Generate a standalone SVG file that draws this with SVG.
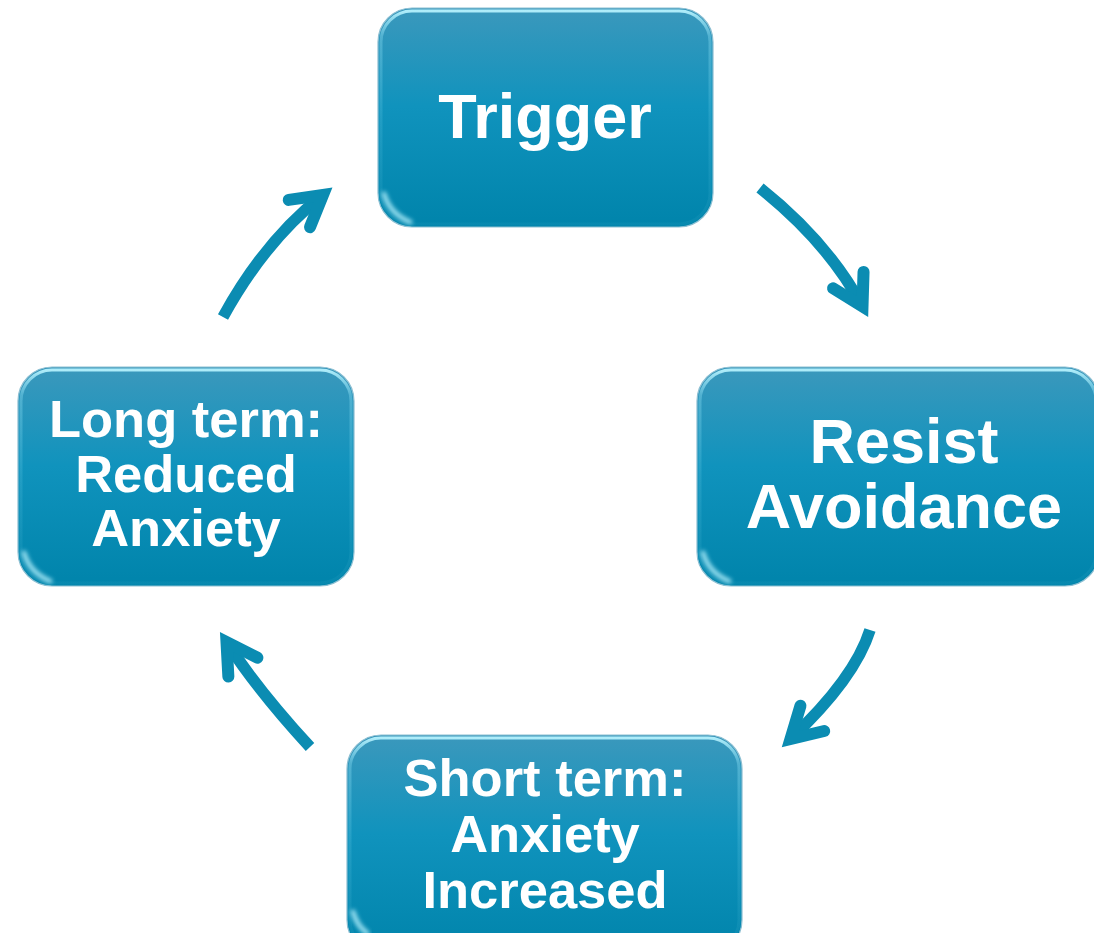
<svg xmlns="http://www.w3.org/2000/svg" width="1094" height="933" viewBox="0 0 1094 933">
  <defs>
    <linearGradient id="boxFill" x1="0" y1="0" x2="0" y2="1">
      <stop offset="0" stop-color="#3b98bc"/>
      <stop offset="0.45" stop-color="#1093bd"/>
      <stop offset="1" stop-color="#0084ab"/>
    </linearGradient>
    <linearGradient id="rimGrad" x1="0" y1="0" x2="0" y2="1">
      <stop offset="0" stop-color="#b5f1fd" stop-opacity="0.95"/>
      <stop offset="0.12" stop-color="#8fe2f6" stop-opacity="0.35"/>
      <stop offset="0.5" stop-color="#8fe2f6" stop-opacity="0.15"/>
      <stop offset="1" stop-color="#8fe2f6" stop-opacity="0.05"/>
    </linearGradient>
    <filter id="soft" x="-30%" y="-30%" width="160%" height="160%">
      <feGaussianBlur stdDeviation="2"/>
    </filter>
    <marker id="head" markerUnits="userSpaceOnUse" orient="auto" overflow="visible" markerWidth="1" markerHeight="1" refX="0" refY="0">
      <path d="M-30,-17.3 L0,0 L-30,17.3" fill="none" stroke="#0b8cb2" stroke-width="12" stroke-linecap="round" stroke-linejoin="miter"/>
    </marker>
  </defs>
  <style>
    .box { fill: url(#boxFill); stroke: #8cbfd2; stroke-width: 1.2; }
    .rim { fill: none; stroke: url(#rimGrad); stroke-width: 3; }
    .gloss { fill: none; stroke: #b0eefb; stroke-width: 5; stroke-linecap: round; opacity: 0.85; filter: url(#soft); }
    .lbl { font-family: "Liberation Sans", Arial, sans-serif; font-weight: bold; fill: #ffffff; text-anchor: middle; }
    .conn { fill: none; stroke: #0b8cb2; stroke-width: 11.5; stroke-linecap: butt; marker-end: url(#head); }
  </style>

  <g id="connectors">
    <path class="conn" d="M223,317 Q265,240.4 323,195"/>
    <path class="conn" d="M760,188 Q827.9,242.1 862.5,306.5"/>
    <path class="conn" d="M870,630 Q854.8,678.4 790.5,739"/>
    <path class="conn" d="M310,747 Q258.2,690.7 226.5,642"/>
  </g>

  <g id="node-trigger">
    <rect class="box" x="378" y="8" width="335" height="219" rx="34" ry="34"/>
    <rect class="rim" x="381" y="11" width="329" height="213" rx="31" ry="31"/>
    <path class="gloss" d="M384,194 Q390,214 410,222"/>
    <text class="lbl" x="545" y="138" font-size="63">Trigger</text>
  </g>

  <g id="node-resist">
    <rect class="box" x="697" y="367" width="402" height="219" rx="34" ry="34"/>
    <rect class="rim" x="700" y="370" width="396" height="213" rx="31" ry="31"/>
    <path class="gloss" d="M703,553 Q709,573 729,581"/>
    <text class="lbl" x="904" y="463" font-size="63">Resist</text>
    <text class="lbl" x="904" y="528" font-size="63">Avoidance</text>
  </g>

  <g id="node-longterm">
    <rect class="box" x="18" y="367" width="336" height="219" rx="34" ry="34"/>
    <rect class="rim" x="21" y="370" width="330" height="213" rx="31" ry="31"/>
    <path class="gloss" d="M24,553 Q30,573 50,581"/>
    <text class="lbl" x="186" y="437" font-size="52.5">Long term:</text>
    <text class="lbl" x="186" y="492" font-size="52.5">Reduced</text>
    <text class="lbl" x="186" y="546" font-size="52.5">Anxiety</text>
  </g>

  <g id="node-shortterm">
    <rect class="box" x="347" y="735" width="395" height="219" rx="34" ry="34"/>
    <rect class="rim" x="350" y="738" width="389" height="213" rx="31" ry="31"/>
    <path class="gloss" d="M353,912 Q357,926 367,933"/>
    <text class="lbl" x="545" y="796" font-size="52.5">Short term:</text>
    <text class="lbl" x="545" y="852" font-size="52.5">Anxiety</text>
    <text class="lbl" x="545" y="908" font-size="52.5">Increased</text>
  </g>
</svg>
